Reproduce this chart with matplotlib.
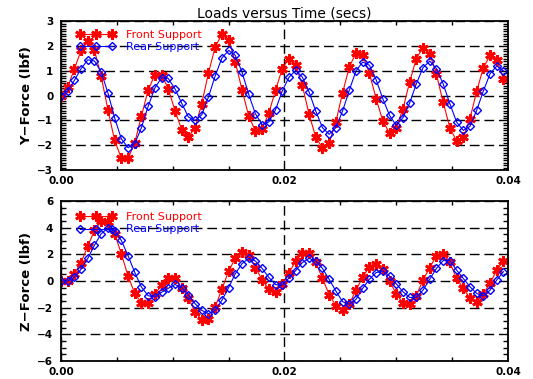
import numpy as np
import matplotlib
matplotlib.use("Agg")
import matplotlib.pyplot as plt
import matplotlib.ticker as ticker

# sample times (secs), 0.6 ms step
t = np.arange(67) * 0.0006

# Y-force (lbf)
y_front = [0.0, 0.35, 1.08, 1.83, 2.2, 1.83, 0.78, -0.57, -1.8, -2.53, -2.53, -1.91, -0.82, 0.22, 0.85, 0.85, 0.28,
           -0.6, -1.37, -1.67, -1.29, -0.32, 0.92, 1.97, 2.48, 2.26, 1.36, 0.24, -0.82, -1.43, -1.35, -0.7, 0.22, 1.09, 1.5,
           1.25, 0.42, -0.75, -1.67, -2.11, -1.91, -1.06, 0.11, 1.16, 1.72, 1.63, 0.92, -0.12, -1.02, -1.51, -1.29,
           -0.54, 0.55, 1.5, 1.94, 1.7, 0.86, -0.26, -1.29, -1.83, -1.67, -0.93, 0.18, 1.13, 1.63, 1.43, 0.69]
y_rear = [0.0, 0.19, 0.62, 1.09, 1.45, 1.4, 0.96, 0.11, -0.89, -1.74, -2.1, -1.94, -1.29, -0.43, 0.31, 0.73, 0.7,
          0.28, -0.3, -0.86, -1.0, -0.77, -0.05, 0.8, 1.52, 1.83, 1.63, 0.96, 0.05, -0.73, -1.17, -1.06, -0.57, 0.19, 0.74,
          1.02, 0.75, 0.15, -0.62, -1.29, -1.56, -1.29, -0.62, 0.22, 1.0, 1.36, 1.23, 0.65, -0.12, -0.79, -1.2,
          -0.89, -0.3, 0.48, 1.13, 1.4, 1.09, 0.48, -0.32, -1.06, -1.4, -1.24, -0.59, 0.19, 0.89, 1.2, 1.0]

# Z-force (lbf)
z_front = [0.0, 0.02, 0.55, 1.38, 2.63, 3.8, 4.5, 4.4, 3.55, 2.05, 0.38, -0.93, -1.63, -1.63, -1.0, -0.3, 0.2, 0.2,
           -0.5, -1.3, -2.3, -2.92, -2.85, -1.95, -0.6, 0.72, 1.72, 2.2, 1.97, 1.0, 0.1, -0.63, -0.8, -0.25, 0.6,
           1.5, 2.1, 2.1, 1.4, 0.2, -1.02, -1.85, -2.18, -1.72, -0.7, 0.3, 1.07, 1.3, 0.88, 0.0, -0.95,
           -1.65, -1.75, -1.1, 0.08, 1.0, 1.9, 2.05, 1.4, 0.2, -0.55, -1.3, -1.55, -0.95, -0.18, 0.83, 1.5]
z_rear = [0.0, 0.0, 0.3, 0.88, 1.7, 2.7, 3.55, 3.97, 3.78, 3.05, 1.9, 0.65, -0.45, -1.1, -1.2, -0.85, -0.55,
          -0.25, -0.5, -1.05, -1.7, -2.2, -2.45, -2.2, -1.45, -0.5, 0.55, 1.3, 1.7, 1.5, 0.95, 0.27, -0.27, -0.3, 0.22,
          0.78, 1.38, 1.7, 1.5, 0.95, 0.13, -0.75, -1.55, -1.75, -1.38, -0.55, 0.13, 0.63, 0.75, 0.38, -0.2,
          -0.8, -1.23, -1.23, -0.68, 0.13, 0.95, 1.53, 1.53, 0.83, 0.2, -0.43, -0.93, -1.13, -0.68, 0.08, 0.7]

labels = ["Front Support", "Rear Support"]
colors = ["red", "blue"]

DASH = (0, (7, 3.5))


def setup(ax, ylim, ymaj, ymin, ylabel):
    ax.set_xlim(0, 0.04)
    ax.set_ylim(*ylim)
    ax.xaxis.set_major_locator(ticker.MultipleLocator(0.02))
    ax.xaxis.set_minor_locator(ticker.MultipleLocator(0.005))
    ax.yaxis.set_major_locator(ticker.MultipleLocator(ymaj))
    ax.yaxis.set_minor_locator(ticker.MultipleLocator(ymin))
    ax.xaxis.set_major_formatter(ticker.FormatStrFormatter('%.2f'))
    ax.yaxis.set_major_formatter(ticker.FuncFormatter(
        lambda v, p: f"{v:.0f}".replace('-', '\u2212')))
    ax.tick_params(which='both', direction='in', top=True, right=True, width=1,
                   labelsize=7.5)
    ax.tick_params(which='major', length=0)
    ax.tick_params(axis='x', which='major', pad=4)
    ax.tick_params(axis='y', which='major', pad=5.5)
    ax.tick_params(axis='y', which='minor', length=3.8)
    ax.tick_params(axis='x', which='minor', length=3)
    for lab in ax.get_xticklabels() + ax.get_yticklabels():
        lab.set_fontweight('bold')
    ax.grid(True, which='major', color='k', linestyle=DASH, lw=1)
    ax.set_axisbelow(True)
    for s in ax.spines.values():
        s.set_linewidth(1.3)
    ax.set_ylabel(ylabel, fontweight='bold', fontsize=9.5, labelpad=3)


def draw(ax, front, rear, legy):
    ax.plot(t, front, color=colors[0], lw=0.8, marker=(6, 2, 0), ms=7.5, mew=2.0,
            label=labels[0])
    ax.plot(t, rear, color=colors[1], lw=0.8, marker='D', ms=4.5, mfc='none',
            mew=1.0, label=labels[1])
    leg = ax.legend(loc='upper left', bbox_to_anchor=(0.036, legy), borderaxespad=0,
                    borderpad=0, frameon=False, numpoints=3, handlelength=3.4,
                    handletextpad=1.0, labelspacing=0.2, fontsize=8)
    for txt, c in zip(leg.get_texts(), colors):
        txt.set_color(c)


fig = plt.figure(figsize=(5.33, 3.79), dpi=100)
ax1 = fig.add_axes([0.1144, 0.5515, 0.8386, 0.392])
ax2 = fig.add_axes([0.1144, 0.0475, 0.8386, 0.422])

setup(ax1, (-3, 3), 1, 0.1, "Y\u2212Force (lbf)")
setup(ax2, (-6, 6), 2, 0.5, "Z\u2212Force (lbf)")
draw(ax1, y_front, y_rear, 0.945)
draw(ax2, z_front, z_rear, 0.93)

ax1.set_title("Loads versus Time (secs)", fontsize=10, pad=3)

fig.savefig("out.png", dpi=100)
